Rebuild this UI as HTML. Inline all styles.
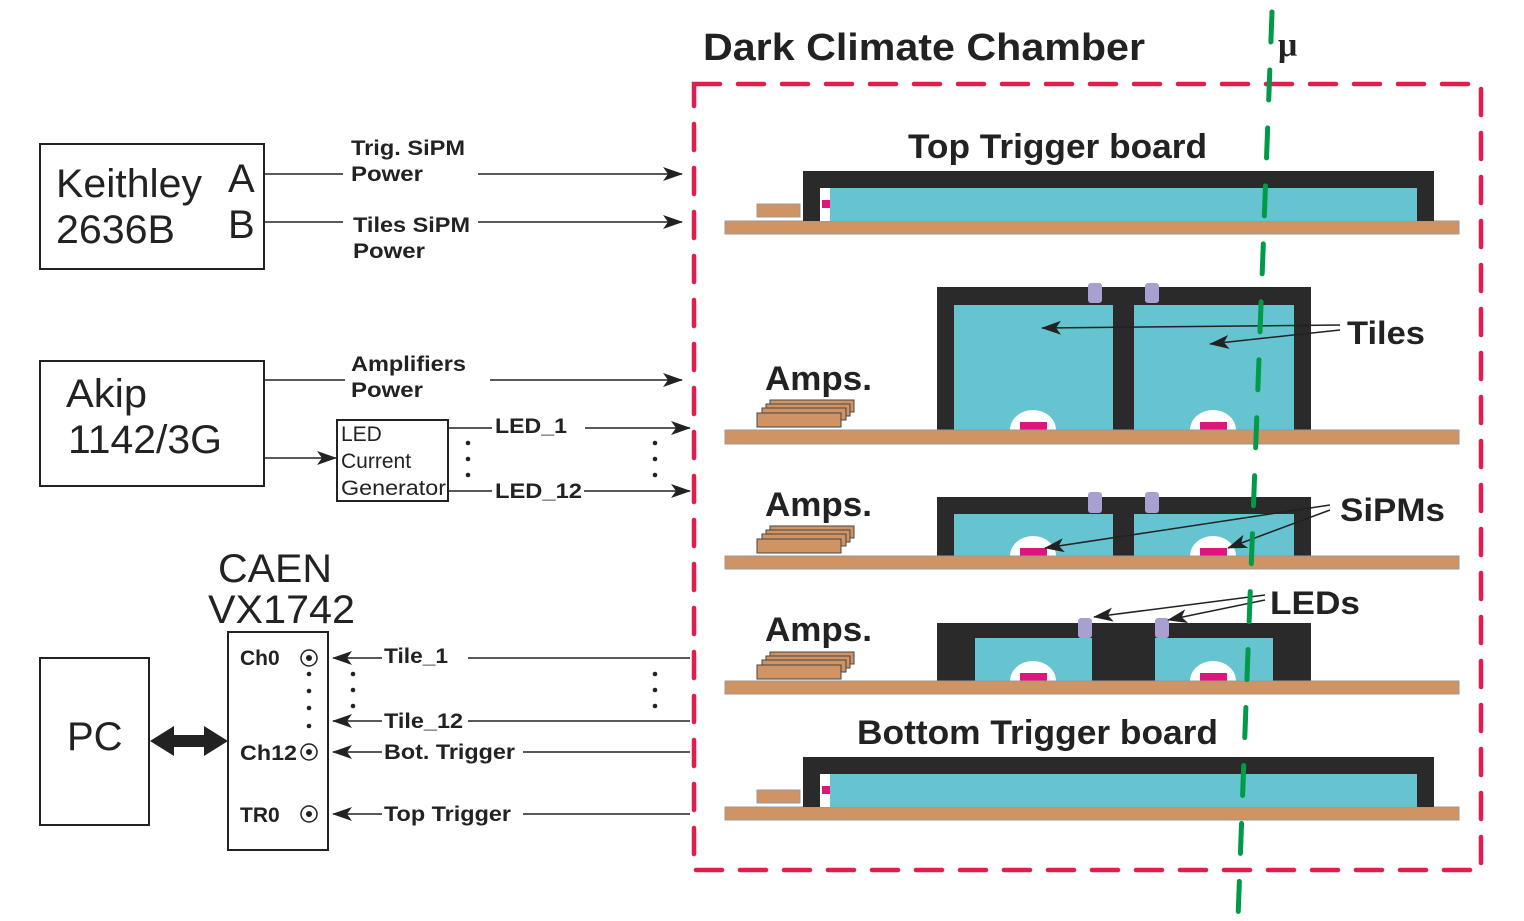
<!DOCTYPE html>
<html><head><meta charset="utf-8"><style>
html,body{margin:0;padding:0;background:#fff;}
svg{display:block;font-family:"Liberation Sans",Arial,sans-serif;}
.b{font-weight:bold;fill:#222;}
</style></head><body>
<svg width="1524" height="921" viewBox="0 0 1524 921" xmlns="http://www.w3.org/2000/svg">
<defs>
<marker id="al" markerWidth="20" markerHeight="14" refX="19" refY="7" orient="auto" markerUnits="userSpaceOnUse"><path d="M0,0 L20,7 L0,14 L5,7Z" fill="#222"/></marker>
</defs>

<g>
<rect x="725" y="221" width="734" height="13" fill="#d09464" stroke="#999" stroke-width="1"/>
<rect x="757" y="204" width="43" height="13" fill="#d09464" stroke="#999" stroke-width="1"/>
<rect x="803" y="171" width="631" height="50" fill="#2a2a2a"/>
<rect x="820" y="188" width="597" height="33" fill="#fff"/>
<rect x="830" y="188" width="587" height="33" fill="#66c3d0"/>
<rect x="822" y="200" width="8" height="8" fill="#e0147c"/>
<rect x="725" y="807" width="734" height="13" fill="#d09464" stroke="#999" stroke-width="1"/>
<rect x="757" y="790" width="43" height="13" fill="#d09464" stroke="#999" stroke-width="1"/>
<rect x="803" y="757" width="631" height="50" fill="#2a2a2a"/>
<rect x="820" y="774" width="597" height="33" fill="#fff"/>
<rect x="830" y="774" width="587" height="33" fill="#66c3d0"/>
<rect x="822" y="786" width="8" height="8" fill="#e0147c"/>

<rect x="937" y="287" width="374" height="143" fill="#2a2a2a"/>
<rect x="954" y="305" width="159" height="125" fill="#66c3d0"/>
<rect x="1134" y="305" width="160" height="125" fill="#66c3d0"/>
<rect x="1088" y="283" width="14" height="20" rx="3" fill="#a8a0d0"/>
<rect x="1145" y="283" width="14" height="20" rx="3" fill="#a8a0d0"/>
<path d="M1010,430 A23,20 0 0 1 1056,430Z" fill="#fff"/>
<path d="M1190,430 A23,20 0 0 1 1236,430Z" fill="#fff"/>
<rect x="1020" y="422" width="27" height="8" fill="#e0147c"/>
<rect x="1200" y="422" width="27" height="8" fill="#e0147c"/>
<rect x="725" y="430" width="734" height="14" fill="#d09464" stroke="#999" stroke-width="1"/>

<rect x="937" y="497" width="374" height="59" fill="#2a2a2a"/>
<rect x="954" y="514" width="159" height="42" fill="#66c3d0"/>
<rect x="1134" y="514" width="160" height="42" fill="#66c3d0"/>
<rect x="1088" y="492" width="14" height="21" rx="3" fill="#a8a0d0"/>
<rect x="1145" y="492" width="14" height="21" rx="3" fill="#a8a0d0"/>
<path d="M1010,556 A23,20 0 0 1 1056,556Z" fill="#fff"/>
<path d="M1190,556 A23,20 0 0 1 1236,556Z" fill="#fff"/>
<rect x="1020" y="548" width="27" height="8" fill="#e0147c"/>
<rect x="1200" y="548" width="27" height="8" fill="#e0147c"/>
<rect x="725" y="556" width="734" height="13" fill="#d09464" stroke="#999" stroke-width="1"/>

<rect x="937" y="623" width="374" height="58" fill="#2a2a2a"/>
<rect x="975" y="638" width="117" height="43" fill="#66c3d0"/>
<rect x="1155" y="638" width="118" height="43" fill="#66c3d0"/>
<rect x="1078" y="618" width="14" height="20" rx="3" fill="#a8a0d0"/>
<rect x="1155" y="618" width="14" height="20" rx="3" fill="#a8a0d0"/>
<path d="M1010,681 A23,20 0 0 1 1056,681Z" fill="#fff"/>
<path d="M1190,681 A23,20 0 0 1 1236,681Z" fill="#fff"/>
<rect x="1020" y="673" width="27" height="8" fill="#e0147c"/>
<rect x="1200" y="673" width="27" height="8" fill="#e0147c"/>
<rect x="725" y="681" width="734" height="13" fill="#d09464" stroke="#999" stroke-width="1"/>

<g fill="#d09464" stroke="#444" stroke-width="1">
<rect x="770" y="400" width="84" height="12"/><rect x="766" y="404" width="84" height="12"/><rect x="762" y="408" width="84" height="12"/><rect x="757" y="413" width="84" height="14"/>
<rect x="770" y="526" width="84" height="12"/><rect x="766" y="530" width="84" height="12"/><rect x="762" y="534" width="84" height="12"/><rect x="757" y="539" width="84" height="14"/>
<rect x="770" y="652" width="84" height="12"/><rect x="766" y="656" width="84" height="12"/><rect x="762" y="660" width="84" height="12"/><rect x="757" y="665" width="84" height="14"/>
</g>
</g>

<g stroke="#222" stroke-width="1.5" fill="none">
<line x1="1340" y1="325" x2="1042" y2="328" marker-end="url(#al)"/>
<line x1="1340" y1="330" x2="1210" y2="344" marker-end="url(#al)"/>
<line x1="1330" y1="505" x2="1045" y2="548" marker-end="url(#al)"/>
<line x1="1330" y1="510" x2="1228" y2="548" marker-end="url(#al)"/>
<line x1="1265" y1="595" x2="1094" y2="617" marker-end="url(#al)"/>
<line x1="1265" y1="600" x2="1168" y2="620" marker-end="url(#al)"/>
</g>

<rect x="694" y="84" width="787" height="786" fill="none" stroke="#e41c4c" stroke-width="4.5" stroke-dasharray="26 18" stroke-linecap="round"/>
<line x1="1272" y1="12" x2="1238" y2="918" stroke="#009a48" stroke-width="5" stroke-dasharray="30 28" stroke-linecap="round"/>

<g class="b" lengthAdjust="spacingAndGlyphs">
<text x="703" y="60" font-size="38" textLength="442" lengthAdjust="spacingAndGlyphs">Dark Climate Chamber</text>
<text x="1278" y="56" font-size="34" font-family="Liberation Serif,serif">μ</text>
<text x="908" y="158" font-size="34" textLength="299" lengthAdjust="spacingAndGlyphs">Top Trigger board</text>
<text x="857" y="744" font-size="34" textLength="361" lengthAdjust="spacingAndGlyphs">Bottom Trigger board</text>
<text x="765" y="390" font-size="34" textLength="107" lengthAdjust="spacingAndGlyphs">Amps.</text>
<text x="765" y="516" font-size="34" textLength="107" lengthAdjust="spacingAndGlyphs">Amps.</text>
<text x="765" y="641" font-size="34" textLength="107" lengthAdjust="spacingAndGlyphs">Amps.</text>
<text x="1347" y="344" font-size="32" textLength="78" lengthAdjust="spacingAndGlyphs">Tiles</text>
<text x="1340" y="521" font-size="32" textLength="105" lengthAdjust="spacingAndGlyphs">SiPMs</text>
<text x="1270" y="614" font-size="32" textLength="90" lengthAdjust="spacingAndGlyphs">LEDs</text>
</g>

<g fill="none" stroke="#222" stroke-width="2">
<rect x="40" y="144" width="224" height="125"/>
<rect x="40" y="361" width="224" height="125"/>
<rect x="337" y="420" width="111" height="81"/>
<rect x="228" y="632" width="100" height="218"/>
<rect x="40" y="658" width="109" height="167"/>
</g>
<g fill="#222" font-size="40">
<text x="56" y="197" textLength="146" lengthAdjust="spacingAndGlyphs">Keithley</text>
<text x="56" y="243" textLength="119" lengthAdjust="spacingAndGlyphs">2636B</text>
<text x="228" y="192">A</text>
<text x="228" y="238">B</text>
<text x="66" y="407" textLength="81" lengthAdjust="spacingAndGlyphs">Akip</text>
<text x="68" y="453" textLength="154" lengthAdjust="spacingAndGlyphs">1142/3G</text>
<text x="218" y="582" textLength="114" lengthAdjust="spacingAndGlyphs">CAEN</text>
<text x="208" y="623" textLength="147" lengthAdjust="spacingAndGlyphs">VX1742</text>
<text x="67" y="750">PC</text>
</g>
<g fill="#222" font-size="21">
<text x="341" y="441">LED</text>
<text x="341" y="468">Current</text>
<text x="341" y="495" textLength="105" lengthAdjust="spacingAndGlyphs">Generator</text>
</g>
<g class="b" font-size="21">
<text x="351" y="155" textLength="114" lengthAdjust="spacingAndGlyphs">Trig. SiPM</text>
<text x="351" y="181" textLength="72" lengthAdjust="spacingAndGlyphs">Power</text>
<text x="353" y="232" textLength="117" lengthAdjust="spacingAndGlyphs">Tiles SiPM</text>
<text x="353" y="258" textLength="72" lengthAdjust="spacingAndGlyphs">Power</text>
<text x="351" y="371" textLength="115" lengthAdjust="spacingAndGlyphs">Amplifiers</text>
<text x="351" y="397" textLength="72" lengthAdjust="spacingAndGlyphs">Power</text>
<text x="495" y="433" textLength="72" lengthAdjust="spacingAndGlyphs">LED_1</text>
<text x="495" y="498" textLength="87" lengthAdjust="spacingAndGlyphs">LED_12</text>
<text x="240" y="665">Ch0</text>
<text x="240" y="760" textLength="57" lengthAdjust="spacingAndGlyphs">Ch12</text>
<text x="240" y="822">TR0</text>
<text x="384" y="663" textLength="64" lengthAdjust="spacingAndGlyphs">Tile_1</text>
<text x="384" y="728" textLength="79" lengthAdjust="spacingAndGlyphs">Tile_12</text>
<text x="384" y="759" textLength="131" lengthAdjust="spacingAndGlyphs">Bot. Trigger</text>
<text x="384" y="821" textLength="127" lengthAdjust="spacingAndGlyphs">Top Trigger</text>
</g>

<g stroke="#222" stroke-width="1.5" fill="none">
<line x1="264" y1="174" x2="343" y2="174"/><line x1="478" y1="174" x2="682" y2="174" marker-end="url(#al)"/>
<line x1="264" y1="222" x2="343" y2="222"/><line x1="478" y1="222" x2="682" y2="222" marker-end="url(#al)"/>
<line x1="264" y1="380" x2="345" y2="380"/><line x1="490" y1="380" x2="682" y2="380" marker-end="url(#al)"/>
<line x1="264" y1="458" x2="336" y2="458" marker-end="url(#al)"/>
<line x1="448" y1="428" x2="492" y2="428"/><line x1="585" y1="428" x2="690" y2="428" marker-end="url(#al)"/>
<line x1="448" y1="491" x2="492" y2="491"/><line x1="584" y1="491" x2="690" y2="491" marker-end="url(#al)"/>
<line x1="382" y1="658" x2="333" y2="658" marker-end="url(#al)"/><line x1="468" y1="658" x2="690" y2="658"/>
<line x1="382" y1="721" x2="333" y2="721" marker-end="url(#al)"/><line x1="468" y1="721" x2="690" y2="721"/>
<line x1="382" y1="752" x2="333" y2="752" marker-end="url(#al)"/><line x1="523" y1="752" x2="690" y2="752"/>
<line x1="382" y1="814" x2="333" y2="814" marker-end="url(#al)"/><line x1="523" y1="814" x2="690" y2="814"/>
<circle cx="309" cy="658" r="8"/><circle cx="309" cy="752" r="8"/><circle cx="309" cy="814" r="8"/>
</g>
<g fill="#222">
<circle cx="309" cy="658" r="3"/><circle cx="309" cy="752" r="3"/><circle cx="309" cy="814" r="3"/>
<circle cx="468" cy="443" r="2.3"/><circle cx="468" cy="459" r="2.3"/><circle cx="468" cy="475" r="2.3"/>
<circle cx="655" cy="443" r="2.3"/><circle cx="655" cy="459" r="2.3"/><circle cx="655" cy="475" r="2.3"/>
<circle cx="309" cy="674" r="2.3"/><circle cx="309" cy="691" r="2.3"/><circle cx="309" cy="708" r="2.3"/><circle cx="309" cy="726" r="2.3"/>
<circle cx="353" cy="674" r="2.3"/><circle cx="353" cy="690" r="2.3"/><circle cx="353" cy="706" r="2.3"/>
<circle cx="655" cy="674" r="2.3"/><circle cx="655" cy="690" r="2.3"/><circle cx="655" cy="706" r="2.3"/>
<path d="M150,741 L174,726 L174,735 L204,735 L204,726 L228,741 L204,756 L204,747 L174,747 L174,756Z"/>
</g>
</svg>
</body></html>
